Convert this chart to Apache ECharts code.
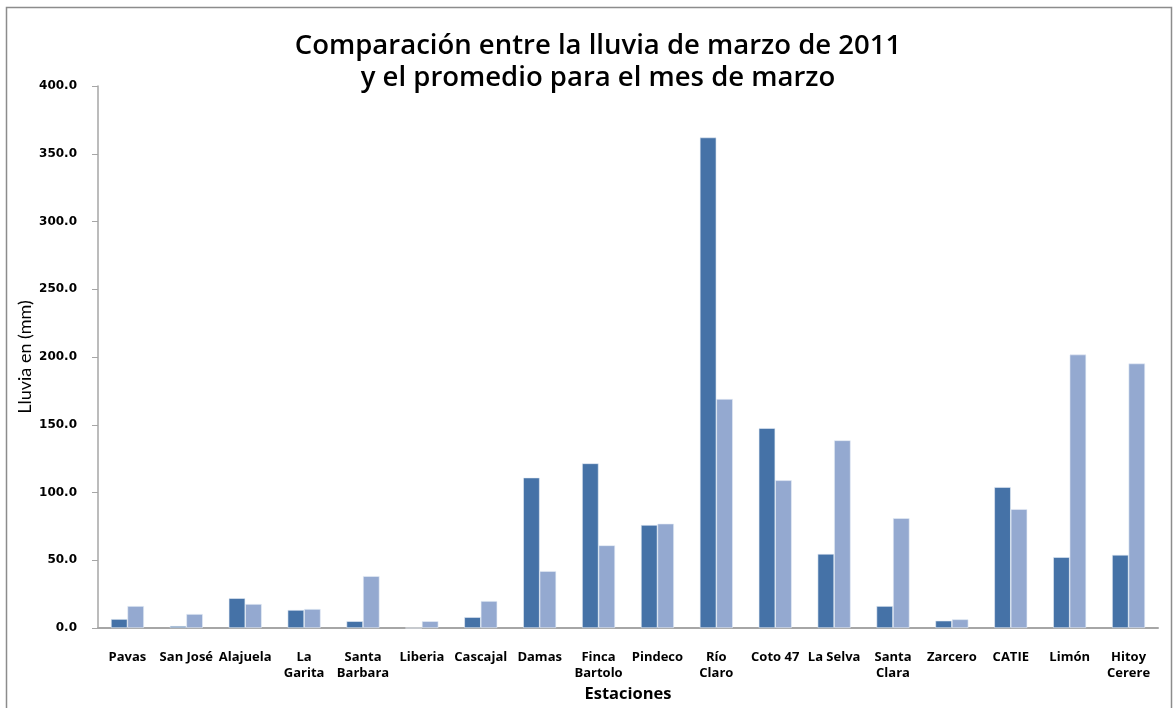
<!DOCTYPE html>
<html><head><meta charset="utf-8">
<script src="https://cdn.jsdelivr.net/npm/echarts@6/dist/echarts.min.js"></script>
<style>html,body{margin:0;padding:0;background:#fff}#c{width:1175px;height:708px}</style>
</head><body><div id="c"></div>
<script>
const categories = ["Pavas","San José","Alajuela","La\nGarita","Santa\nBarbara","Liberia","Cascajal","Damas","Finca\nBartolo","Pindeco","Río\nClaro","Coto 47","La Selva","Santa\nClara","Zarcero","CATIE","Limón","Hitoy\nCerere"];
const lluvia2011 = [6.6,1.5,22,13.3,5,0,8,111,121.5,76,362,147.5,54.7,16.2,5.4,104,52.3,54];
const promedio = [16.2,10.3,17.7,14,38.3,5,19.9,42,61,77,169,109,138.5,81,6.4,87.7,201.8,195.2];
const yTicks = [0,50,100,150,200,250,300,350,400];

const chart = echarts.init(document.getElementById('c'));
chart.setOption({
  animation:false,
  backgroundColor:'#fff',
  title:{
    text:'Comparación entre la lluvia de marzo de 2011\ny el promedio para el mes de marzo',
    left:593, top:25, textAlign:'center',
    textStyle:{fontFamily:'Open Sans',fontWeight:600,fontSize:27.5,lineHeight:32,color:'#000'}
  },
  graphic:[{type:'rect',shape:{x:6.5,y:7.5,width:1165,height:720},style:{fill:'none',stroke:'#8c8c8c',lineWidth:1.5},silent:true}],
  grid:{left:98,right:17,top:86,bottom:73},
  xAxis:{
    type:'category',data:categories,
    name:'Estaciones',nameLocation:'middle',nameGap:58,
    nameTextStyle:{fontFamily:'Open Sans',fontWeight:'bold',fontSize:16.5,color:'#000'},
    axisLine:{lineStyle:{color:'#a6a6a6',width:2}},
    axisTick:{show:false},
    axisLabel:{interval:0,fontFamily:'Open Sans',fontWeight:'bold',fontSize:13,color:'#000',margin:21,lineHeight:16}
  },
  yAxis:{
    type:'value',min:0,max:400,interval:50,
    name:'Lluvia en (mm)',nameLocation:'middle',nameGap:64,nameMoveOverlap:false,
    nameTextStyle:{fontFamily:'Lato',fontSize:18,color:'#000'},
    axisLine:{show:true,lineStyle:{color:'#a6a6a6',width:1.5}},
    axisTick:{show:true,length:6,lineStyle:{color:'#a6a6a6'}},
    splitLine:{show:false},
    axisLabel:{fontFamily:'DejaVu Sans',fontWeight:'bold',fontSize:12,color:'#000',margin:21,
      formatter:v=>yTicks.includes(v)?v.toFixed(1):''}
  },
  series:[
    {name:'Marzo 2011',type:'bar',data:lluvia2011,barGap:'0%',barCategoryGap:'44%',
     itemStyle:{color:'#4572A7',borderColor:'#e8eef7',borderWidth:0.6}},
    {name:'Promedio marzo',type:'bar',data:promedio,
     itemStyle:{color:'#94A9D0',borderColor:'#e8eef7',borderWidth:0.6}}
  ]
});
</script></body></html>
